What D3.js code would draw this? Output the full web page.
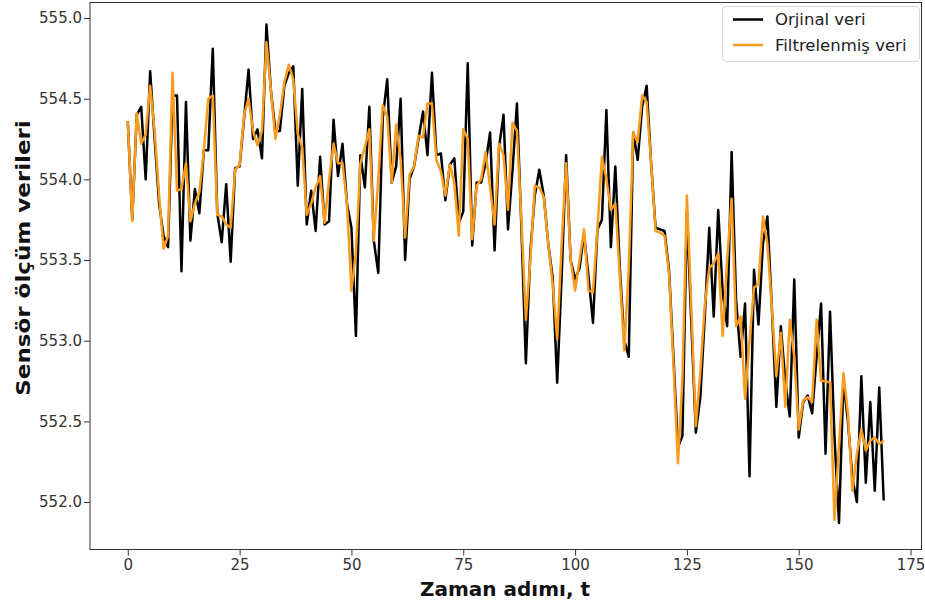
<!DOCTYPE html>
<html>
<head>
<meta charset="utf-8">
<script src="https://cdn.jsdelivr.net/npm/d3@7"></script>
<style>
  html, body { margin: 0; padding: 0; background: #fff; }
  svg { display: block; font-family: "DejaVu Sans", sans-serif; }
</style>
</head>
<body>
<svg id="chart" width="925" height="604"></svg>
<script>
// ---- data ----
const original = [
  554.36, 553.75, 554.40, 554.45, 554.00, 554.67, 554.25, 553.85, 553.65, 553.58,
  554.52, 554.52, 553.43, 554.48, 553.62, 553.94, 553.79, 554.18, 554.18, 554.81,
  553.79, 553.61, 553.97, 553.49, 554.07, 554.08, 554.38, 554.68, 554.25, 554.31,
  554.13, 554.96, 554.55, 554.30, 554.30, 554.58, 554.66, 554.70, 553.96, 554.56,
  553.72, 553.93, 553.68, 554.14, 553.72, 553.74, 554.37, 554.02, 554.22, 553.85,
  553.70, 553.03, 554.15, 553.95, 554.45, 553.62, 553.42, 554.38, 554.62, 553.98,
  554.08, 554.50, 553.50, 554.00, 554.08, 554.25, 554.42, 554.15, 554.66, 554.15,
  554.16, 553.87, 554.09, 554.13, 553.73, 553.80, 554.72, 553.59, 553.98, 553.98,
  554.10, 554.29, 553.56, 554.20, 554.40, 553.69, 554.05, 554.47, 553.70, 552.86,
  553.55, 553.90, 554.06, 553.90, 553.60, 553.39, 552.74, 553.40, 554.15, 553.50,
  553.38, 553.45, 553.66, 553.40, 553.11, 553.69, 553.75, 554.43, 553.58, 554.08,
  553.45, 553.00, 552.90, 554.29, 554.12, 554.45, 554.58, 554.10, 553.70, 553.69,
  553.68, 553.44, 552.90, 552.34, 552.41, 553.80, 553.10, 552.43, 552.65, 553.15,
  553.70, 553.15, 553.81, 553.30, 553.09, 554.17, 553.25, 552.90, 553.23, 552.16,
  553.44, 553.10, 553.60, 553.77, 553.20, 552.59, 553.09, 552.75, 552.53, 553.38,
  552.40, 552.62, 552.66, 552.55, 552.90, 553.23, 552.30, 553.18, 552.40, 551.87,
  552.75, 552.50, 552.15, 552.00, 552.78, 552.12, 552.62, 552.07, 552.71, 552.01
];
const filtered = [
  554.36, 553.74, 554.41, 554.22, 554.28, 554.58, 554.30, 553.90, 553.57, 553.65,
  554.66, 553.93, 553.94, 554.10, 553.74, 553.85, 553.92, 554.18, 554.50, 554.52,
  553.78, 553.77, 553.72, 553.70, 554.06, 554.09, 554.40, 554.50, 554.30, 554.21,
  554.30, 554.85, 554.55, 554.25, 554.40, 554.60, 554.71, 554.62, 554.28, 554.20,
  553.78, 553.85, 553.95, 554.02, 553.73, 554.00, 554.22, 554.10, 554.10, 553.85,
  553.31, 553.55, 554.10, 554.20, 554.31, 553.62, 554.00, 554.46, 554.39, 553.98,
  554.34, 554.12, 553.64, 554.03, 554.08, 554.27, 554.26, 554.47, 554.47, 554.12,
  554.05, 553.90, 554.09, 553.98, 553.65, 554.31, 554.25, 553.63, 553.96, 554.00,
  554.17, 553.95, 553.72, 554.22, 554.15, 553.81, 554.35, 554.30, 553.75, 553.13,
  553.50, 553.96, 553.95, 553.89, 553.60, 553.35, 553.01, 553.60, 554.10, 553.50,
  553.31, 553.50, 553.69, 553.31, 553.30, 553.69, 554.14, 554.00, 553.81, 553.85,
  553.40, 552.94, 553.45, 554.29, 554.23, 554.52, 554.48, 554.10, 553.68, 553.67,
  553.65, 553.42, 552.85, 552.24, 552.76, 553.90, 553.20, 552.47, 552.80, 553.22,
  553.45, 553.48, 553.54, 553.03, 553.50, 553.88, 553.09, 553.15, 552.64, 553.00,
  553.33, 553.35, 553.77, 553.60, 553.20, 552.78, 553.05, 552.59, 553.13, 552.90,
  552.45, 552.63, 552.65, 552.62, 553.13, 552.75, 552.75, 552.74, 551.89, 552.35,
  552.80, 552.55, 552.07, 552.30, 552.45, 552.32, 552.38, 552.40, 552.36, 552.38
];
const steps = d3.range(original.length);
const xTicks = [0, 25, 50, 75, 100, 125, 150, 175];
const yTicks = [552.0, 552.5, 553.0, 553.5, 554.0, 554.5, 555.0];
const seriesNames = ["Orjinal veri", "Filtrelenmiş veri"];
const seriesColors = ["#000000", "#f99b1c"];
const xLabel = "Zaman adımı, t";
const yLabel = "Sensör ölçüm verileri";

// ---- layout ----
const svg = d3.select("#chart");
const L = 90, R = 921.5, T = 2.5, B = 549.5;

const x = d3.scaleLinear().domain([-8.45, 177.45]).range([L, R]);
const y = d3.scaleLinear().domain([551.706, 555.096]).range([B, T]);

// axes
const xAxis = d3.axisBottom(x).tickValues(xTicks).tickFormat(d3.format("d")).tickSize(6).tickPadding(4);
const yAxis = d3.axisLeft(y).tickValues(yTicks).tickFormat(d3.format(".1f")).tickSize(6).tickPadding(2);

const gx = svg.append("g").attr("transform", `translate(0,${B})`).call(xAxis);
const gy = svg.append("g").attr("transform", `translate(${L},0)`).call(yAxis);
[gx, gy].forEach(g => {
  g.select(".domain").remove();
  g.selectAll(".tick line").attr("stroke", "#333").attr("stroke-width", 1);
  g.selectAll(".tick text").attr("fill", "#333").style("font-size", "15px")
    .style("font-family", "'DejaVu Sans', sans-serif");
});

// lines
const line = d3.line().x((d, i) => x(steps[i])).y(d => y(d));
svg.append("clipPath").attr("id", "clip")
  .append("rect").attr("x", L).attr("y", T).attr("width", R - L).attr("height", B - T);

svg.append("path").datum(original)
  .attr("d", line).attr("fill", "none")
  .attr("stroke", seriesColors[0]).attr("stroke-width", 2.5)
  .attr("stroke-linejoin", "round").attr("clip-path", "url(#clip)");
svg.append("path").datum(filtered)
  .attr("d", line).attr("fill", "none")
  .attr("stroke", seriesColors[1]).attr("stroke-width", 2.5)
  .attr("stroke-linejoin", "round").attr("clip-path", "url(#clip)");

// frame
svg.append("rect").attr("x", L).attr("y", T).attr("width", R - L).attr("height", B - T)
  .attr("fill", "none").attr("stroke", "#333").attr("stroke-width", 1);

// axis labels
svg.append("text").attr("x", 505).attr("y", 596)
  .attr("text-anchor", "middle").style("font-size", "20px").style("font-weight", "bold")
  .attr("fill", "#111").text(xLabel);
svg.append("text").attr("transform", `translate(30,258) rotate(-90) scale(1.15,1)`)
  .attr("text-anchor", "middle").style("font-size", "20px").style("font-weight", "bold")
  .attr("fill", "#111").text(yLabel);

// legend
const lg = svg.append("g");
lg.append("rect").attr("x", 722.5).attr("y", 6.5).attr("width", 197).attr("height", 55)
  .attr("rx", 4).attr("fill", "#fff").attr("fill-opacity", 0.85)
  .attr("stroke", "#d5d5d5").attr("stroke-width", 1);
seriesNames.forEach((name, i) => {
  const yy = 19.5 + i * 25.5;
  lg.append("line").attr("x1", 733).attr("x2", 763).attr("y1", yy).attr("y2", yy)
    .attr("stroke", seriesColors[i]).attr("stroke-width", 2.5);
  lg.append("text").attr("x", 775).attr("y", yy + 5.5).style("font-size", "16.5px")
    .attr("fill", "#222").text(name);
});
</script>
</body>
</html>
